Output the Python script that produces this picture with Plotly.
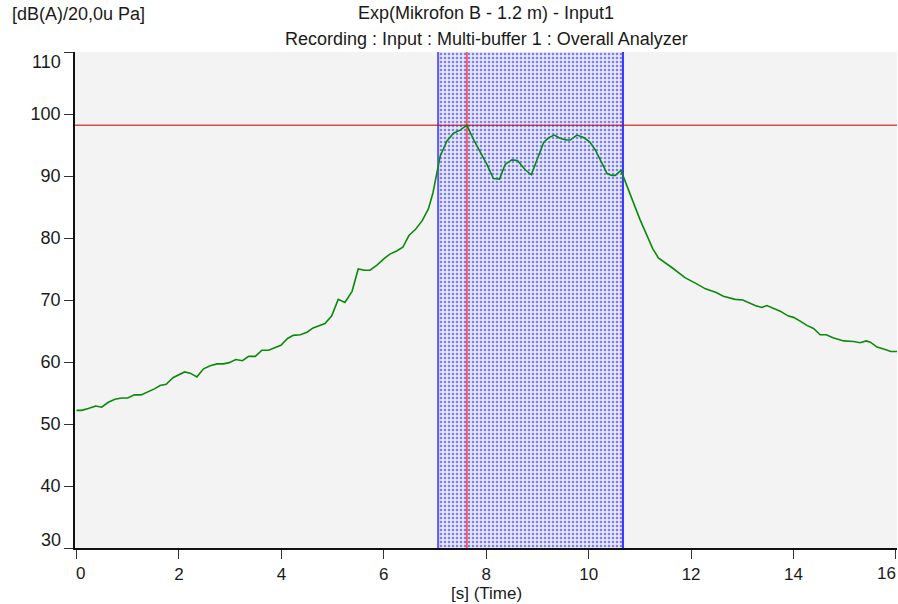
import plotly.graph_objects as go

# ---- data ----
time_s = [0.00, 0.10, 0.23, 0.375, 0.49, 0.62, 0.75, 0.88, 1.00, 1.13, 1.26, 1.40, 1.53, 1.63, 1.75,
          1.89, 1.99, 2.11, 2.22, 2.35, 2.48, 2.61, 2.74, 2.87, 2.98, 3.11, 3.24, 3.36, 3.49, 3.62,
          3.75, 3.88, 3.99, 4.12, 4.23, 4.37, 4.50, 4.62, 4.74, 4.85, 4.98, 5.11, 5.24, 5.38, 5.50,
          5.62, 5.73, 5.86, 6.01, 6.12, 6.25, 6.37, 6.49, 6.62, 6.75, 6.87, 6.96, 7.01, 7.10, 7.23,
          7.36, 7.49, 7.62, 7.75, 7.88, 8.01, 8.14, 8.26, 8.37, 8.50, 8.61, 8.76, 8.88, 8.97, 9.12,
          9.22, 9.33, 9.44, 9.56, 9.64, 9.77, 9.90, 10.02, 10.13, 10.24, 10.36, 10.45, 10.52, 10.63,
          10.71, 10.87, 11.00, 11.25, 11.36, 11.63, 11.88, 12.11, 12.28, 12.49, 12.63, 12.86, 13.01,
          13.25, 13.38, 13.48, 13.74, 13.90, 14.00, 14.13, 14.26, 14.39, 14.52, 14.64, 14.77, 14.98,
          15.17, 15.30, 15.42, 15.50, 15.63, 15.76, 15.90, 16.02]
level_db = [52.2, 52.2, 52.5, 52.9, 52.7, 53.5, 54.0, 54.2, 54.2, 54.7, 54.7, 55.2, 55.7, 56.2, 56.4,
            57.5, 57.9, 58.4, 58.2, 57.6, 58.9, 59.4, 59.7, 59.7, 59.9, 60.4, 60.2, 60.9, 60.9, 61.9,
            61.9, 62.3, 62.7, 63.8, 64.3, 64.4, 64.8, 65.5, 65.8, 66.2, 67.4, 70.1, 69.6, 71.4, 75.0,
            74.8, 74.8, 75.6, 76.7, 77.4, 77.9, 78.5, 80.4, 81.4, 82.8, 84.7, 87.3, 89.5, 93.2, 95.6,
            96.9, 97.4, 98.2, 95.9, 94.0, 91.9, 89.6, 89.5, 91.9, 92.6, 92.5, 91.0, 90.2, 92.1, 95.4,
            96.2, 96.6, 96.1, 95.8, 95.8, 96.6, 96.2, 95.5, 94.2, 92.4, 90.4, 90.1, 90.1, 90.9,
            89.2, 85.9, 83.0, 78.3, 76.8, 75.2, 73.6, 72.6, 71.8, 71.2, 70.6, 70.1, 70.0,
            69.1, 68.8, 69.1, 68.2, 67.4, 67.2, 66.6, 65.9, 65.4, 64.4, 64.4, 63.9, 63.4,
            63.3, 63.1, 63.4, 63.2, 62.4, 62.1, 61.7, 61.7]

band_s = [7.06, 10.67]      # selected interval
cursor_s = 7.62             # vertical cursor
cursor_db = 98.2            # horizontal cursor level

x_ticks = [0, 2, 4, 6, 8, 10, 12, 14, 16]
y_ticks = [30, 40, 50, 60, 70, 80, 90, 100, 110]

title_line1 = "Exp(Mikrofon B - 1.2 m) - Input1"
title_line2 = "Recording : Input : Multi-buffer 1 : Overall Analyzer"
y_unit = "[dB(A)/20,0u Pa]"
x_title = "[s] (Time)"

FONT = "Liberation Sans, Arial, sans-serif"
TXT = 18
y_lo, y_hi = y_ticks[0], y_ticks[-1]
x_lo, x_hi = -0.03, 16.02

fig = go.Figure()

# shaded band with dot pattern
fig.add_trace(go.Scatter(
    x=[band_s[0], band_s[1], band_s[1], band_s[0], band_s[0]],
    y=[y_lo, y_lo, y_hi, y_hi, y_lo],
    mode="lines", fill="toself", line=dict(width=0),
    fillcolor="rgba(0,0,0,0)",
    fillpattern=dict(shape=".", fgcolor="#1010ff", bgcolor="#e8e8fa", size=4, solidity=0.33),
    hoverinfo="skip", showlegend=False))

# band borders
fig.add_trace(go.Scatter(x=[band_s[0], band_s[0]], y=[y_lo, y_hi], mode="lines",
                         line=dict(color="#5a5aff", width=2), showlegend=False, hoverinfo="skip"))
fig.add_trace(go.Scatter(x=[band_s[1], band_s[1]], y=[y_lo, y_hi], mode="lines",
                         line=dict(color="#0000ff", width=1.5), showlegend=False, hoverinfo="skip"))

# vertical cursor
fig.add_trace(go.Scatter(x=[cursor_s, cursor_s], y=[y_lo, y_hi], mode="lines",
                         line=dict(color="rgba(255,70,70,0.9)", width=2), showlegend=False, hoverinfo="skip"))

# horizontal cursor
fig.add_trace(go.Scatter(x=[x_lo, x_hi], y=[cursor_db, cursor_db], mode="lines",
                         line=dict(color="#b80000", width=1), showlegend=False, hoverinfo="skip"))

# level curve
fig.add_trace(go.Scatter(x=time_s, y=level_db, mode="lines",
                         line=dict(color="#0a8a0a", width=1.6), showlegend=False))

x_text = [str(v) for v in x_ticks]
x_text[0] = ""
x_text[-1] = ""
y_text = [str(v) for v in y_ticks]
y_text[0] = ""
y_text[-1] = ""

fig.update_layout(
    width=898, height=604,
    margin=dict(l=75, r=1, t=52, b=56),
    paper_bgcolor="white", plot_bgcolor="#f3f3f3",
    font=dict(family=FONT, size=18, color="#1a1a1a"),
    xaxis=dict(range=[x_lo, x_hi], tickvals=x_ticks, ticktext=x_text,
               ticks="outside", ticklen=9, tickcolor="#333", showline=True, linecolor="#111",
               linewidth=1.5, showgrid=False, zeroline=False, ticklabelstandoff=1,
               tickfont=dict(size=17)),
    yaxis=dict(range=[y_lo, y_hi], tickvals=y_ticks, ticktext=y_text,
               ticks="outside", ticklen=9, tickcolor="#333", showline=True, linecolor="#111",
               linewidth=1.5, showgrid=False, zeroline=False),
)

ann = [
    dict(text=title_line1, xref="paper", yref="paper", x=0.5, y=1, xanchor="center",
         yanchor="middle", yshift=39, showarrow=False, font=dict(size=TXT)),
    dict(text=title_line2, xref="paper", yref="paper", x=0.5, y=1, xanchor="center",
         yanchor="middle", yshift=13, showarrow=False, font=dict(size=TXT)),
    dict(text=y_unit, xref="paper", yref="paper", x=0, y=1, xanchor="left",
         yanchor="middle", xshift=-65, yshift=38, showarrow=False, font=dict(size=TXT)),
    dict(text=x_title, xref="paper", yref="paper", x=0.5, y=0, xanchor="center",
         yanchor="middle", yshift=-45, showarrow=False, font=dict(size=17)),
    # end tick labels nudged inward
    dict(text=str(x_ticks[0]), xref="x", yref="paper", x=x_ticks[0], y=0, xanchor="center",
         yanchor="middle", xshift=4, yshift=-25, showarrow=False, font=dict(size=17)),
    dict(text=str(x_ticks[-1]), xref="x", yref="paper", x=x_ticks[-1], y=0, xanchor="center",
         yanchor="middle", xshift=-9, yshift=-25, showarrow=False, font=dict(size=17)),
    dict(text=str(y_ticks[-1]), xref="paper", yref="y", x=0, y=y_ticks[-1], xanchor="right",
         yanchor="middle", xshift=-12, yshift=-10, showarrow=False),
    dict(text=str(y_ticks[0]), xref="paper", yref="y", x=0, y=y_ticks[0], xanchor="right",
         yanchor="middle", xshift=-12, yshift=8, showarrow=False),
]
fig.update_layout(annotations=ann)

fig.write_html("out.html")
